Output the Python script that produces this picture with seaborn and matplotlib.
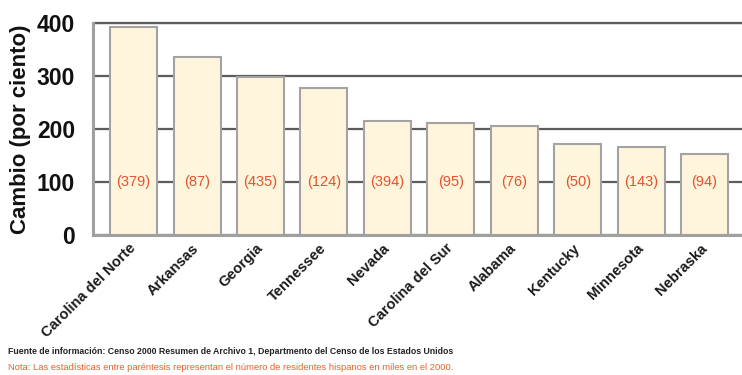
import matplotlib
matplotlib.use("Agg")
import matplotlib.pyplot as plt
import seaborn as sns
import pandas as pd

# Percent change of the Hispanic population, 1990-2000, top ten states
states = ["Carolina del Norte", "Arkansas", "Georgia", "Tennessee", "Nevada",
          "Carolina del Sur", "Alabama", "Kentucky", "Minnesota", "Nebraska"]
change_pct = [391, 336, 298, 276, 215, 210, 206, 172, 166, 153]
# Hispanic residents in 2000, thousands
residents_k = [379, 87, 435, 124, 394, 95, 76, 50, 143, 94]
y_ticks = [0, 100, 200, 300, 400]

source_note = ("Fuente de información: Censo 2000 Resumen de Archivo 1, "
               "Departmento del Censo de los Estados Unidos")
paren_note = ("Nota: Las estadísticas entre paréntesis representan el número "
              "de residentes hispanos en miles en el 2000.")

sns.set_theme(style="white")
plt.rcParams["font.family"] = ["Liberation Sans", "DejaVu Sans"]

orange = "#E2542E"

df = pd.DataFrame({"estado": states, "cambio": change_pct})

fig = plt.figure(figsize=(7.42, 3.75), dpi=100)
ax = fig.add_axes([93 / 742, 140 / 375, 649 / 742, 212.5 / 375])

sns.barplot(data=df, x="estado", y="cambio", color="#FFF4DC", saturation=1,
            width=0.74, edgecolor="#A3A3A3", linewidth=1.5, ax=ax, zorder=3)

ax.set_ylim(0, 400)
ax.set_xlim(-0.64, 9.59)
ax.set_yticks(y_ticks)
ax.set_yticklabels([str(t) for t in y_ticks], fontweight="bold",
                   fontsize=16.5, color="#111111")
ax.tick_params(axis="y", length=0, pad=13)
ax.tick_params(axis="x", length=0, pad=8)

ax.yaxis.grid(True, color="#5C5C5C", linewidth=1.6, zorder=0)
ax.xaxis.grid(False)
ax.set_axisbelow(True)

for side in ("top", "right"):
    ax.spines[side].set_visible(False)
for side in ("left", "bottom"):
    ax.spines[side].set_color("#A0A0A0")
    ax.spines[side].set_linewidth(2.2)
    ax.spines[side].set_zorder(4)

# top grid line at 400 drawn unclipped
ax.axhline(400, color="#5C5C5C", linewidth=1.6, clip_on=False, zorder=1)

ax.set_xticks(range(len(states)))
ax.set_xticklabels(states, rotation=45, ha="right", va="center",
                   rotation_mode="anchor", fontsize=10.5, fontweight="bold",
                   color="#1A1A1A")

ax.set_xlabel("")
ax.set_ylabel("Cambio (por ciento)", fontweight="bold", fontsize=16,
              color="#111111")
ax.yaxis.set_label_coords(-0.095, 0.5)

for i, n in enumerate(residents_k):
    ax.text(i, 100, f"({n})", ha="center", va="center", fontsize=10.5,
            color=orange, zorder=5)

fig.text(8 / 742, 1 - 352 / 375, source_note, fontsize=6.3, fontweight="bold",
         color="#222222", ha="left", va="center")
fig.text(8 / 742, 1 - 367 / 375, paren_note, fontsize=6.75, color="#E8602C",
         ha="left", va="center")

fig.savefig("out.png", dpi=100, facecolor="white")
